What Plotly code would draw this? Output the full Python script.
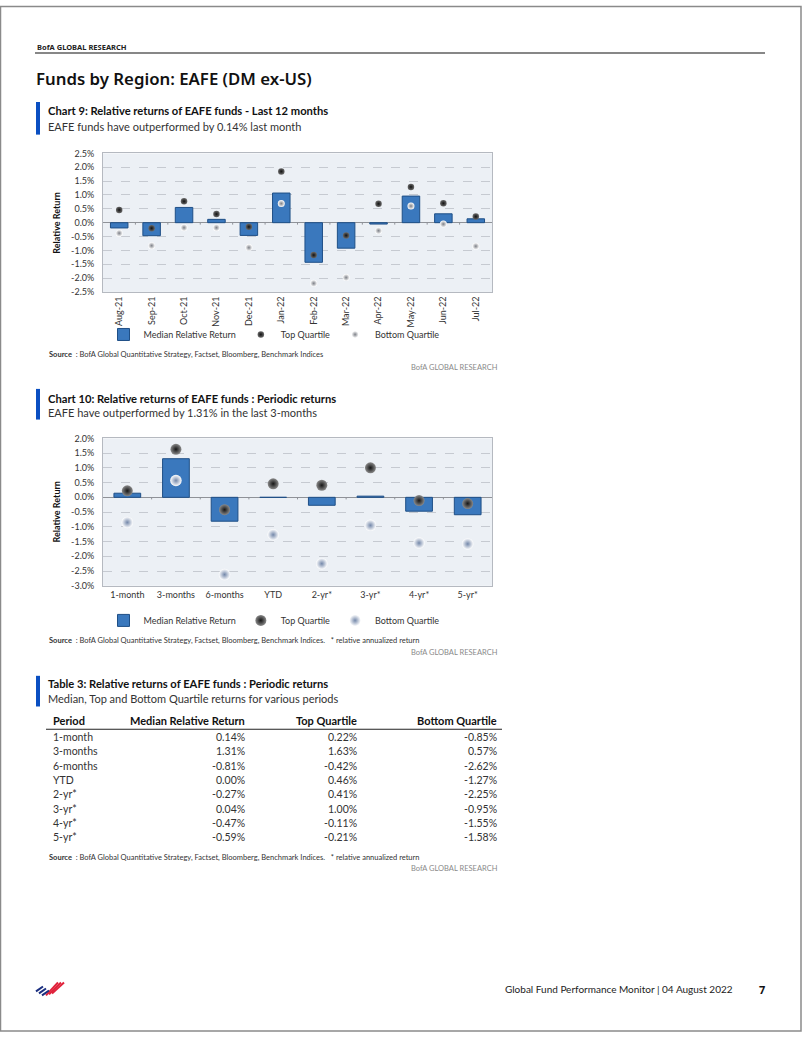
import plotly.graph_objects as go

W, H = 802, 1037

# ---------------- data ----------------
months = ["Aug-21", "Sep-21", "Oct-21", "Nov-21", "Dec-21", "Jan-22",
          "Feb-22", "Mar-22", "Apr-22", "May-22", "Jun-22", "Jul-22"]
m_median = [-0.19, -0.47, 0.55, 0.12, -0.46, 1.07, -1.43, -0.92, -0.05, 0.96, 0.32, 0.14]
m_top = [0.46, -0.20, 0.77, 0.31, -0.15, 1.85, -1.17, -0.46, 0.68, 1.29, 0.70, 0.22]
m_bottom = [-0.38, -0.83, -0.18, -0.18, -0.90, 0.69, -2.19, -1.98, -0.29, 0.60, -0.05, -0.85]

periods = ["1-month", "3-months", "6-months", "YTD", "2-yr*", "3-yr*", "4-yr*", "5-yr*"]
p_median = [0.14, 1.31, -0.81, 0.00, -0.27, 0.04, -0.47, -0.59]
p_top = [0.22, 1.63, -0.42, 0.46, 0.41, 1.00, -0.11, -0.21]
p_bottom = [-0.85, 0.57, -2.62, -1.27, -2.25, -0.95, -1.55, -1.58]

ticks9 = [2.5, 2.0, 1.5, 1.0, 0.5, 0.0, -0.5, -1.0, -1.5, -2.0, -2.5]
ticks10 = [2.0, 1.5, 1.0, 0.5, 0.0, -0.5, -1.0, -1.5, -2.0, -2.5, -3.0]

# ---------------- helpers ----------------
NARROW = "Liberation Sans Narrow, Lato, sans-serif"


def X(px):
    return px / W


def Y(py):
    return 1 - py / H


annotations = []
shapes = []


def ann(text, x, y, size=10, color="#222", xanchor="left", bold=False,
        family=NARROW, angle=0, weight=None):
    f = dict(size=size, color=color, family=family)
    if weight is not None:
        f["weight"] = weight
    annotations.append(dict(
        text=("<b>%s</b>" % text) if bold else text,
        x=X(x), y=Y(y), xref="paper", yref="paper",
        xanchor=xanchor, yanchor="middle", showarrow=False,
        font=f, textangle=angle))


def fmt_pct(v, nd):
    return ("%." + str(nd) + "f") % v + "%"


BAR_COL = "#3a78bd"
BAR_LINE = "#1f4f86"
BG = "#ecf0f5"

fig = go.Figure()

# ---------------- chart 9 ----------------
fig.add_trace(go.Bar(x=months, y=m_median, name="Median Relative Return",
                     marker=dict(color=BAR_COL, line=dict(color=BAR_LINE, width=1)),
                     width=0.54, xaxis="x", yaxis="y", legend="legend"))
fig.add_trace(go.Scatter(x=months, y=m_top, name="Top Quartile", mode="markers",
                         marker=dict(size=6.5, color="#6a6a6a",
                                     gradient=dict(type="radial", color="#111111")),
                         xaxis="x", yaxis="y", legend="legend"))
fig.add_trace(go.Scatter(x=months, y=m_bottom, name="Bottom Quartile", mode="markers",
                         marker=dict(size=7, color="#ffffff",
                                     gradient=dict(type="radial", color="#7c7f86")),
                         xaxis="x", yaxis="y", legend="legend"))

# ---------------- chart 10 ----------------
fig.add_trace(go.Bar(x=periods, y=p_median, name="Median Relative Return",
                     marker=dict(color=BAR_COL, line=dict(color=BAR_LINE, width=1)),
                     width=0.55, xaxis="x2", yaxis="y2", legend="legend2"))
fig.add_trace(go.Scatter(x=periods, y=p_top, name="Top Quartile", mode="markers",
                         marker=dict(size=11, color="#8a8a8a",
                                     gradient=dict(type="radial", color="#151515")),
                         xaxis="x2", yaxis="y2", legend="legend2"))
fig.add_trace(go.Scatter(x=periods, y=p_bottom, name="Bottom Quartile", mode="markers",
                         marker=dict(size=11.5, color="#ffffff",
                                     gradient=dict(type="radial", color="#7488aa")),
                         xaxis="x2", yaxis="y2", legend="legend2"))

axis_common = dict(showgrid=False, showline=True, linecolor="#b5b9c0", mirror=True,
                   linewidth=1, tickfont=dict(size=9, color="#333", family=NARROW),
                   fixedrange=True)
yaxis_common = dict(showgrid=True, gridcolor="#c6cad1", griddash="dash", gridwidth=1,
                    zeroline=True, zerolinecolor="#8f9298", zerolinewidth=1,
                    showline=True, linecolor="#b5b9c0", mirror=True, ticks="",
                    tickfont=dict(size=9, color="#333", family=NARROW),
                    ticklabelstandoff=6, fixedrange=True)

fig.update_layout(
    xaxis=dict(domain=[X(103), X(492)], anchor="y", tickangle=-90,
               range=[-0.5, len(months) - 0.5], ticks="", **axis_common),
    yaxis=dict(domain=[Y(289), Y(149)], anchor="x", range=[-2.5, 2.5],
               tickvals=ticks9, ticktext=[fmt_pct(v, 1) for v in ticks9], **yaxis_common),
    xaxis2=dict(domain=[X(103), X(492)], anchor="y2",
                range=[-0.5, len(periods) - 0.5], ticks="", **axis_common),
    yaxis2=dict(domain=[Y(586), Y(437)], anchor="x2", range=[-3.0, 2.0],
                tickvals=ticks10, ticktext=[fmt_pct(v, 1) for v in ticks10], **yaxis_common),
)

# small tick marks on the zero line at category boundaries
for i in range(1, len(months)):
    shapes.append(dict(type="line", xref="x", yref="y", x0=i - 0.5, x1=i - 0.5,
                       y0=0, y1=-0.07, line=dict(color="#8f9298", width=1)))
for i in range(1, len(periods)):
    shapes.append(dict(type="line", xref="x2", yref="y2", x0=i - 0.5, x1=i - 0.5,
                       y0=0, y1=-0.07, line=dict(color="#8f9298", width=1)))

legend_common = dict(orientation="h", xanchor="center", yanchor="middle",
                     font=dict(size=9, color="#333", family=NARROW),
                     bgcolor="rgba(0,0,0,0)", itemwidth=30, traceorder="normal")
fig.update_layout(
    legend=dict(x=X(274), y=Y(332), **legend_common),
    legend2=dict(x=X(274), y=Y(621), **legend_common),
)

# ---------------- page text ----------------
# page frame
shapes.append(dict(type="rect", xref="paper", yref="paper", x0=X(0.5), x1=X(801),
                   y0=Y(1036), y1=Y(0.5), line=dict(color="#8a8a8a", width=1.5)))
# header
ann("BofA GLOBAL RESEARCH", 35, 41, size=7.5, color="#222", bold=True,
    family="Noto Sans, sans-serif")
shapes.append(dict(type="line", xref="paper", yref="paper", x0=X(35), x1=X(765),
                   y0=Y(47.5), y1=Y(47.5), line=dict(color="#111", width=1.2)))
ann("Funds by Region: EAFE (DM ex-US)", 34, 73, size=16.8, color="#111",
    family="Noto Sans, sans-serif", weight=600)

# title bars
for (y0, y1) in [(97, 130), (387, 418), (677, 708)]:
    shapes.append(dict(type="rect", xref="paper", yref="paper", x0=X(36), x1=X(40),
                       y0=Y(y1), y1=Y(y0), fillcolor="#0a4fc2", line=dict(width=0)))

# chart 9 texts
ann("Chart 9: Relative returns of EAFE funds - Last 12 months", 46, 106, size=11.2,
    color="#111", bold=True)
ann("EAFE funds have outperformed by 0.14% last month", 46, 122, size=11, color="#333")
ann("Relative Return", 57, 219, size=9, color="#111", bold=True, angle=-90, xanchor="center")
ann("<b>Source</b>  : BofA Global Quantitative Strategy, Factset, Bloomberg, Benchmark Indices",
    47, 352, size=7.5, color="#333")
ann("BofA GLOBAL RESEARCH", 500, 365, size=7.5, color="#8a8a8a", xanchor="right")

# chart 10 texts
ann("Chart 10: Relative returns of EAFE funds : Periodic returns", 46, 397, size=11.2,
    color="#111", bold=True)
ann("EAFE have outperformed by 1.31% in the last 3-months", 46, 411, size=11, color="#333")
ann("Relative Return", 57, 511, size=9, color="#111", bold=True, angle=-90, xanchor="center")
ann("<b>Source</b>  : BofA Global Quantitative Strategy, Factset, Bloomberg, Benchmark Indices.   * relative annualized return",
    47, 641, size=7.5, color="#333")
ann("BofA GLOBAL RESEARCH", 500, 653, size=7.5, color="#8a8a8a", xanchor="right")

# table 3
ann("Table 3: Relative returns of EAFE funds : Periodic returns", 46, 685, size=11.2,
    color="#111", bold=True)
ann("Median, Top and Bottom Quartile returns for various periods", 46, 700, size=11,
    color="#333")
col_right = [247, 359, 499]
headers = ["Period", "Median Relative Return", "Top Quartile", "Bottom Quartile"]
ann(headers[0], 51, 722, size=11, color="#111", bold=True)
for h, xr in zip(headers[1:], col_right):
    ann(h, xr, 722, size=11, color="#111", bold=True, xanchor="right")
shapes.append(dict(type="line", xref="paper", yref="paper", x0=X(46), x1=X(502),
                   y0=Y(731), y1=Y(731), line=dict(color="#222", width=1.2)))
row_y0, row_dy = 738.7, 14.5
for i, p in enumerate(periods):
    yy = row_y0 + i * row_dy
    ann(p, 51, yy, size=10.5, color="#333")
    for vals, xr in zip([p_median, p_top, p_bottom], col_right):
        ann(fmt_pct(vals[i], 2), xr, yy, size=10.5, color="#333", xanchor="right")
ann("<b>Source</b>  : BofA Global Quantitative Strategy, Factset, Bloomberg, Benchmark Indices.   * relative annualized return",
    47, 861, size=7.5, color="#333")
ann("BofA GLOBAL RESEARCH", 500, 872, size=7.5, color="#8a8a8a", xanchor="right")

# footer
ann("Global Fund Performance Monitor | 04 August 2022", 735, 994, size=10, color="#222",
    xanchor="right")
ann("7", 762, 994, size=11, color="#111", bold=True, xanchor="center",
    family="Noto Sans, sans-serif")
# logo (flag stripes)
for k in range(3):
    shapes.append(dict(type="line", xref="paper", yref="paper",
                       x0=X(36 + 3 * k), y0=Y(996 + 2 * k), x1=X(43 + 3 * k), y1=Y(991 + 2 * k),
                       line=dict(color="#1b2f80", width=2)))
    shapes.append(dict(type="line", xref="paper", yref="paper",
                       x0=X(46 + 3 * k), y0=Y(1000 - 1 * k), x1=X(58 + 3 * k), y1=Y(987),
                       line=dict(color="#e0223b", width=2)))

fig.update_layout(
    width=W, height=H, margin=dict(l=0, r=0, t=0, b=0),
    paper_bgcolor="white", plot_bgcolor=BG,
    annotations=annotations, shapes=shapes, showlegend=True,
    font=dict(family=NARROW),
)

fig.write_html("out.html", config=dict(displayModeBar=False),
               post_script="document.body.style.margin='0px';"
                           "document.body.style.overflow='hidden';")
